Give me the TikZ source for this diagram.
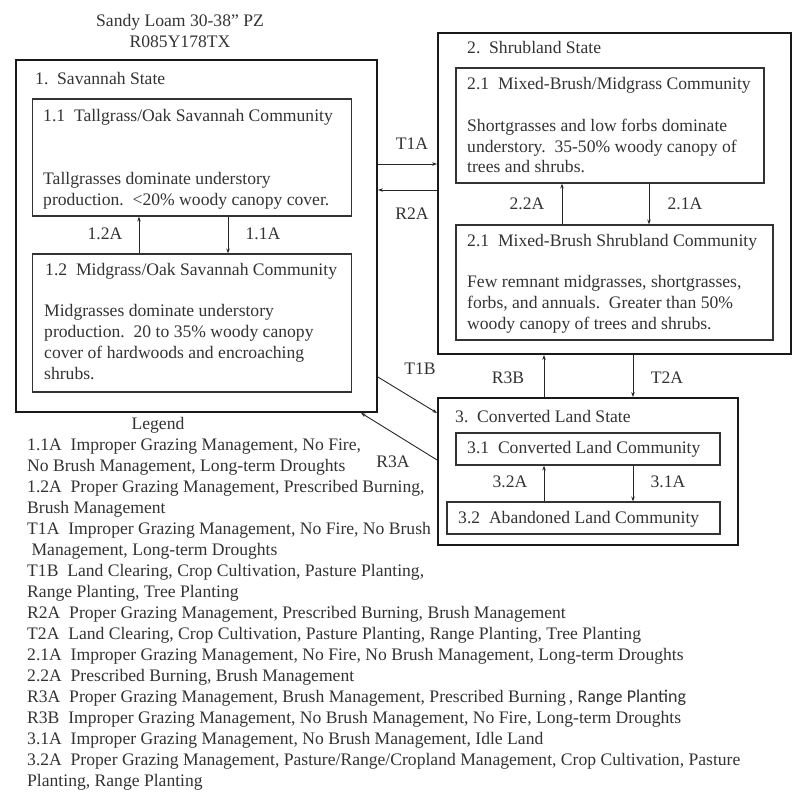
\documentclass[tikz,border=0pt]{standalone}
\usepackage{fontspec}
\setmainfont{Liberation Serif}
\newfontfamily\rangefont{Carlito}
\usetikzlibrary{arrows.meta, positioning}

\begin{document}
\begin{tikzpicture}
  [x=1pt, y=-1pt,
   every node/.style={font=\fontsize{17.6}{21}\selectfont, text=black!80},
   state/.style={rectangle, draw=black!90, line width=1.8pt,
                 inner sep=0pt},
   comm/.style={rectangle, draw=black!80, line width=1.2pt,
                inner sep=0pt},
   txt/.style={anchor=west, inner sep=0pt, text height=12pt, text depth=4pt},
   lbl/.style={inner sep=0pt, text height=12pt, text depth=4pt},
   arr/.style={draw=black!85, line width=0.9pt,
               -{Stealth[length=5pt, width=3.5pt]}}]
  \useasboundingbox (0,0) rectangle (800,803);

  % heading
  \node[lbl] (site)  at (180,23) {Sandy Loam 30-38'' PZ};
  \node[lbl] (siteid) at (180,43) {R085Y178TX};

  % state 1
  \node[state, minimum width=361pt, minimum height=352pt] (sav) at (196.5,236) {};
  \node[txt] (savname) at (35,80) {1.\ \ Savannah State};
  \node[comm, minimum width=319pt, minimum height=117pt] (tall) at (192,157.5) {};
  \node[txt] (tallname) at (43,117) {1.1\ \ Tallgrass/Oak Savannah Community};
  \node[txt] (tall1) at (43,180) {Tallgrasses dominate understory};
  \node[txt] (tall2) at (43,201) {production.\ \ {<}20\% woody canopy cover.};
  \node[comm, minimum width=319pt, minimum height=138pt] (mid) at (192,323) {};
  \node[txt] (midname) at (45,271) {1.2\ \ Midgrass/Oak Savannah Community};
  \node[txt] (mid1) at (44,312) {Midgrasses dominate understory};
  \node[txt] (mid2) at (44,333) {production.\ \ 20 to 35\% woody canopy};
  \node[txt] (mid3) at (44,354) {cover of hardwoods and encroaching};
  \node[txt] (mid4) at (44,375) {shrubs.};

  % state 2
  \node[state, minimum width=353pt, minimum height=321pt] (shr) at (614.5,193.5) {};
  \node[txt] (shrname) at (467,49) {2.\ \ Shrubland State};
  \node[comm, minimum width=308pt, minimum height=115pt] (mbm) at (610,125.5) {};
  \node[txt] (mbmname) at (467,85) {2.1\ \ Mixed-Brush/Midgrass Community};
  \node[txt] (mbm1) at (467,127) {Shortgrasses and low forbs dominate};
  \node[txt] (mbm2) at (467,148) {understory.\ \ 35-50\% woody canopy of};
  \node[txt] (mbm3) at (467,168) {trees and shrubs.};
  \node[comm, minimum width=317pt, minimum height=115pt] (mbs) at (614.5,282.5) {};
  \node[txt] (mbsname) at (467,242) {2.1\ \ Mixed-Brush Shrubland Community};
  \node[txt] (mbs1) at (467,283) {Few remnant midgrasses, shortgrasses,};
  \node[txt] (mbs2) at (467,304) {forbs, and annuals.\ \ Greater than 50\%};
  \node[txt] (mbs3) at (467,325) {woody canopy of trees and shrubs.};

  % state 3
  \node[state, minimum width=300pt, minimum height=147pt] (conv) at (588,471.5) {};
  \node[txt] (convname) at (455,418) {3.\ \ Converted Land State};
  \node[comm, minimum width=264pt, minimum height=32pt] (cvl) at (588,449) {};
  \node[txt] (cvlname) at (467,449) {3.1\ \ Converted Land Community};
  \node[comm, minimum width=273pt, minimum height=32pt] (abl) at (583.5,518) {};
  \node[txt] (ablname) at (458,519) {3.2\ \ Abandoned Land Community};

  % pathways and transitions
  \draw[arr] (mid.north -| 139,0) -- (tall.south -| 139,0);
  \draw[arr] (tall.south -| 228,0) -- (mid.north -| 228,0);
  \draw[arr] (mbs.north -| 562,0) -- (mbm.south -| 562,0);
  \draw[arr] (mbm.south -| 649,0) -- (mbs.north -| 649,0);
  \draw[arr] (abl.north -| 544,0) -- (cvl.south -| 544,0);
  \draw[arr] (cvl.south -| 633,0) -- (abl.north -| 633,0);
  \draw[arr] (sav.east |- 0,164) -- (shr.west |- 0,164);
  \draw[arr] (shr.west |- 0,190) -- (sav.east |- 0,190);
  \draw[arr] (conv.north -| 544,0) -- (shr.south -| 544,0);
  \draw[arr] (shr.south -| 633,0) -- (conv.north -| 633,0);
  \draw[arr] (sav.east |- 0,377) -- (conv.west |- 0,413);
  \draw[arr] (conv.west |- 0,460) -- (sav.south -| 361,0);

  \node[lbl] (p12a) at (105,235) {1.2A};
  \node[lbl] (p11a) at (263,235) {1.1A};
  \node[lbl] (t1a)  at (412,145) {T1A};
  \node[lbl] (r2a)  at (412,215) {R2A};
  \node[lbl] (p22a) at (527,205) {2.2A};
  \node[lbl] (p21a) at (685,205) {2.1A};
  \node[lbl] (t1b)  at (420,370) {T1B};
  \node[lbl] (r3b)  at (508,379) {R3B};
  \node[lbl] (t2a)  at (667,379) {T2A};
  \node[lbl] (r3a)  at (393,463) {R3A};
  \node[lbl] (p32a) at (510,483) {3.2A};
  \node[lbl] (p31a) at (668,483) {3.1A};

  % legend
  \node[lbl] (legend) at (158,425) {Legend};
  \foreach \line [count=\i] in {
      {1.1A\ \ Improper Grazing Management, No Fire,},
      {No Brush Management, Long-term Droughts},
      {1.2A\ \ Proper Grazing Management, Prescribed Burning,},
      {Brush Management},
      {T1A\ \ Improper Grazing Management, No Fire, No Brush},
      {\ Management, Long-term Droughts},
      {T1B\ \ Land Clearing, Crop Cultivation, Pasture Planting,},
      {Range Planting, Tree Planting},
      {R2A\ \ Proper Grazing Management, Prescribed Burning, Brush Management},
      {T2A\ \ Land Clearing, Crop Cultivation, Pasture Planting, Range Planting, Tree Planting},
      {2.1A\ \ Improper Grazing Management, No Fire, No Brush Management, Long-term Droughts},
      {2.2A\ \ Prescribed Burning, Brush Management},
      {R3A\ \ Proper Grazing Management, Brush Management, Prescribed Burning\,, {\rangefont\fontsize{18}{21}\selectfont Range Planting}},
      {R3B\ \ Improper Grazing Management, No Brush Management, No Fire, Long-term Droughts},
      {3.1A\ \ Improper Grazing Management, No Brush Management, Idle Land},
      {3.2A\ \ Proper Grazing Management, Pasture/Range/Cropland Management, Crop Cultivation, Pasture},
      {Planting, Range Planting}}
    \node[txt] (leg\i) at (27,446+21*\i-21) {\line};
\end{tikzpicture}
\end{document}
